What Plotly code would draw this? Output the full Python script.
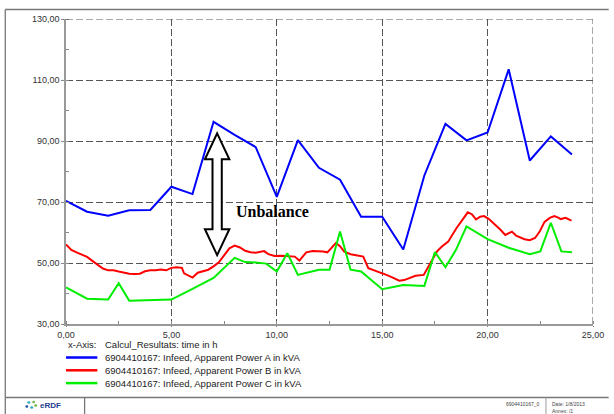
import plotly.graph_objects as go

# ---- data -----------------------------------------------------------------
hours_a = list(range(25))
power_a = [70.4, 66.8, 65.5, 67.3, 67.4, 75.0, 72.6, 96.3, 92.0, 88.0, 71.7,
           90.3, 81.2, 77.3, 65.2, 65.2, 54.4, 78.7, 95.6, 90.2, 92.8, 113.5,
           83.6, 91.5, 85.6]

hours_b = [0, 0.25, 0.5, 0.75, 1.0, 1.25, 1.5, 1.75, 2.0, 2.25, 2.5, 2.75, 3.0,
           3.25, 3.5, 3.75, 4.0, 4.25, 4.5, 4.75, 5.0, 5.25, 5.5, 5.6, 5.75,
           6.0, 6.25, 6.5, 6.75, 7.0, 7.25, 7.5, 7.75, 8.0, 8.25, 8.5, 8.75,
           9.0, 9.25, 9.4, 9.6, 9.9, 10.25, 10.5, 10.85, 11.07, 11.4, 11.7,
           11.94, 12.2, 12.4, 12.6, 12.8, 13.0, 13.2, 13.5, 13.8, 14.1, 14.34,
           14.72, 15.0, 15.2, 15.5, 15.81, 16.04, 16.27, 16.58, 16.97, 17.2,
           17.4, 17.6, 17.82, 18.13, 18.52, 18.8, 19.06, 19.25, 19.45, 19.65,
           19.83, 20.05, 20.3, 20.6, 20.84, 21.15, 21.35, 21.54, 21.75, 22.0,
           22.25, 22.47, 22.7, 22.95, 23.17, 23.35, 23.47, 23.7, 23.98]
power_b = [56.1, 54.3, 53.5, 52.8, 52.0, 50.7, 49.5, 48.2, 47.6, 47.6, 47.2,
           46.8, 46.5, 46.4, 46.5, 47.3, 47.6, 47.6, 47.9, 47.6, 48.4, 48.6,
           48.4, 46.6, 46.0, 45.2, 46.8, 47.2, 47.8, 48.9, 50.2, 52.5, 54.8,
           55.7, 55.1, 54.0, 53.5, 53.4, 53.6, 53.9, 52.9, 52.3, 52.4, 52.2,
           52.1, 50.8, 53.5, 53.9, 53.9, 53.8, 53.5, 55.0, 56.5, 55.5, 53.7,
           52.9, 52.6, 52.1, 48.3, 47.4, 46.6, 46.1, 45.2, 44.2, 44.4, 45.0,
           45.8, 46.1, 49.0, 51.5, 53.8, 55.3, 57.0, 61.4, 64.0, 66.6, 66.0,
           64.3, 65.2, 65.4, 64.5, 63.0, 61.0, 59.2, 60.3, 59.0, 58.3, 57.8,
           57.5, 58.2, 60.3, 63.5, 64.8, 65.4, 64.9, 64.4, 64.8, 63.9]

hours_c = [0, 1, 2, 2.5, 3, 4, 5, 6, 7, 8, 8.5, 9, 9.5, 10, 10.5, 11, 12, 12.5,
           13, 13.5, 14, 15, 16, 17, 17.5, 18, 18.5, 19, 20, 21, 22, 22.5, 23,
           23.5, 24]
power_c = [42.0, 38.3, 38.0, 43.4, 37.6, 37.8, 38.0, 41.5, 45.1, 51.7, 50.3,
           50.2, 49.8, 47.2, 53.2, 46.1, 47.8, 47.8, 60.3, 47.8, 47.2, 41.4,
           42.8, 42.5, 53.6, 48.6, 54.3, 62.0, 57.8, 55.0, 52.9, 53.8, 63.2,
           53.8, 53.5]

x_ticks = [0, 5, 10, 15, 20, 25]
x_tick_labels = ["0,00", "5,00", "10,00", "15,00", "20,00", "25,00"]
y_ticks = [30, 50, 70, 90, 110, 130]
y_tick_labels = ["30,00", "50,00", "70,00", "90,00", "110,00", "130,00"]

series_names = [
    "6904410167: Infeed, Apparent Power A in kVA",
    "6904410167: Infeed, Apparent Power B in kVA",
    "6904410167: Infeed, Apparent Power C in kVA",
]
series_colors = ["#0000FF", "#FF0000", "#00EE00"]

# unbalance arrow (time, upper and lower tip values)
arrow_t, arrow_top, arrow_bottom = 7.17, 92.5, 52.6

# ---- page geometry ----------------------------------------------------------
W, H = 614, 414
L, R, T, B = 66, 604, 19, 324


def px(x):
    return (x - L) / (R - L)


def py(y):
    return (B - y) / (B - T)


SANS = "Liberation Sans, Arial, sans-serif"
SERIF = "Liberation Serif, Times New Roman, serif"

fig = go.Figure()
for xs, ys, name, col in zip([hours_a, hours_b, hours_c],
                             [power_a, power_b, power_c],
                             series_names, series_colors):
    fig.add_trace(go.Scatter(x=xs, y=ys, mode="lines", name=name,
                             line=dict(color=col, width=2), showlegend=False))

grid = dict(showgrid=True, gridcolor="#555555", gridwidth=1, griddash="7px,3px",
            zeroline=False, showline=True, linecolor="#999999", linewidth=1.5,
            ticks="outside", tickcolor="#888888", ticklabeloverflow="allow",
            tickfont=dict(family=SANS, size=9, color="#333333"))

fig.update_xaxes(range=[0, 25], tickvals=x_ticks, ticktext=x_tick_labels,
                 ticklen=1,
                 minor=dict(ticks="inside", ticklen=3, dtick=2.5,
                            tickcolor="#888888", showgrid=False), **grid)
fig.update_yaxes(range=[30, 130], tickvals=y_ticks, ticktext=y_tick_labels,
                 ticklen=3,
                 minor=dict(ticks="inside", ticklen=3, dtick=10,
                            tickcolor="#888888", showgrid=False), **grid)

shapes = []
annotations = []

# dashed border along the top and right edge of the plot
for x0, y0, x1, y1 in [(0, 130, 25, 130), (25, 30, 25, 130)]:
    shapes.append(dict(type="line", xref="x", yref="y", x0=x0, y0=y0, x1=x1,
                       y1=y1, line=dict(color="#555555", width=1,
                                        dash="7px,3px")))

# hollow double-headed arrow
hw, sw, hh = 0.58, 0.22, 8.5
t = arrow_t
pts = [(t, arrow_top), (t + hw, arrow_top - hh), (t + sw, arrow_top - hh),
       (t + sw, arrow_bottom + hh), (t + hw, arrow_bottom + hh),
       (t, arrow_bottom), (t - hw, arrow_bottom + hh),
       (t - sw, arrow_bottom + hh), (t - sw, arrow_top - hh),
       (t - hw, arrow_top - hh)]
path = "M " + " L ".join(f"{a},{b}" for a, b in pts) + " Z"
shapes.append(dict(type="path", xref="x", yref="y", path=path,
                   fillcolor="white", line=dict(color="black", width=2)))
annotations.append(dict(x=7.96, y=66.8, xref="x", yref="y", text="<b>Unbalance</b>",
                        showarrow=False, xanchor="left", yanchor="middle",
                        font=dict(family=SERIF, size=16, color="black")))

# axis caption and series key under the plot
annotations.append(dict(x=px(66), y=py(344.5), xref="paper", yref="paper",
                        text="x-Axis:", showarrow=False, xanchor="left",
                        yanchor="middle",
                        font=dict(family=SANS, size=9.5, color="#222222")))
annotations.append(dict(x=px(104), y=py(344.5), xref="paper", yref="paper",
                        text="Calcul_Resultats: time in h", showarrow=False,
                        xanchor="left", yanchor="middle",
                        font=dict(family=SANS, size=9.5, color="#222222")))
for i, (name, col) in enumerate(zip(series_names, series_colors)):
    yy = 357.5 + i * 12.8
    shapes.append(dict(type="line", xref="paper", yref="paper", x0=px(66),
                       x1=px(98), y0=py(yy), y1=py(yy),
                       line=dict(color=col, width=2.5)))
    annotations.append(dict(x=px(103.5), y=py(yy), xref="paper", yref="paper",
                            text=name, showarrow=False, xanchor="left",
                            yanchor="middle",
                            font=dict(family=SANS, size=9.5, color="#222222")))

# page frame and footer boxes
frame = dict(color="#777777", width=1.3)
shapes += [
    dict(type="line", xref="paper", yref="paper", x0=px(4), x1=px(620),
         y0=py(9.5), y1=py(9.5), line=frame),
    dict(type="line", xref="paper", yref="paper", x0=px(4), x1=px(4),
         y0=py(9.5), y1=py(420), line=frame),
    dict(type="line", xref="paper", yref="paper", x0=px(4), x1=px(620),
         y0=py(397.5), y1=py(397.5), line=frame),
    dict(type="line", xref="paper", yref="paper", x0=px(85), x1=px(85),
         y0=py(397.5), y1=py(420), line=frame),
    dict(type="line", xref="paper", yref="paper", x0=px(556), x1=px(556),
         y0=py(397.5), y1=py(420), line=dict(color="#999999", width=1)),
]

# company logo
logo_dots = [(28, 402.5, "#2aa7b8"), (33, 402.0, "#7ab648"), (26, 406.5, "#1e4fa0"),
             (31, 407.5, "#2aa7b8"), (35, 405.5, "#7ab648")]
for cx, cy, col in logo_dots:
    shapes.append(dict(type="circle", xref="paper", yref="paper",
                       x0=px(cx - 1.5), x1=px(cx + 1.5), y0=py(cy - 1.2),
                       y1=py(cy + 1.2), fillcolor=col, line=dict(width=0)))
annotations.append(dict(x=px(37), y=py(405), xref="paper", yref="paper",
                        text="<b>eRDF</b>", showarrow=False, xanchor="left",
                        yanchor="middle",
                        font=dict(family=SANS, size=8, color="#23408e")))

# footer metadata
tiny = dict(family=SANS, size=5, color="#444444")
annotations.append(dict(x=px(552), y=py(404), xref="paper", yref="paper",
                        text="6904410167_0", showarrow=False, xanchor="right",
                        yanchor="middle", font=tiny))
annotations.append(dict(x=px(560), y=py(404), xref="paper", yref="paper",
                        text="Date: 1/8/2013", showarrow=False, xanchor="left",
                        yanchor="middle", font=tiny))
annotations.append(dict(x=px(560), y=py(410.5), xref="paper", yref="paper",
                        text="Annex: /1", showarrow=False, xanchor="left",
                        yanchor="middle", font=tiny))

fig.update_layout(width=W, height=H, margin=dict(l=L, r=W - R, t=T, b=H - B),
                  paper_bgcolor="white", plot_bgcolor="white",
                  shapes=shapes, annotations=annotations, showlegend=False)

fig.write_html("out.html")
